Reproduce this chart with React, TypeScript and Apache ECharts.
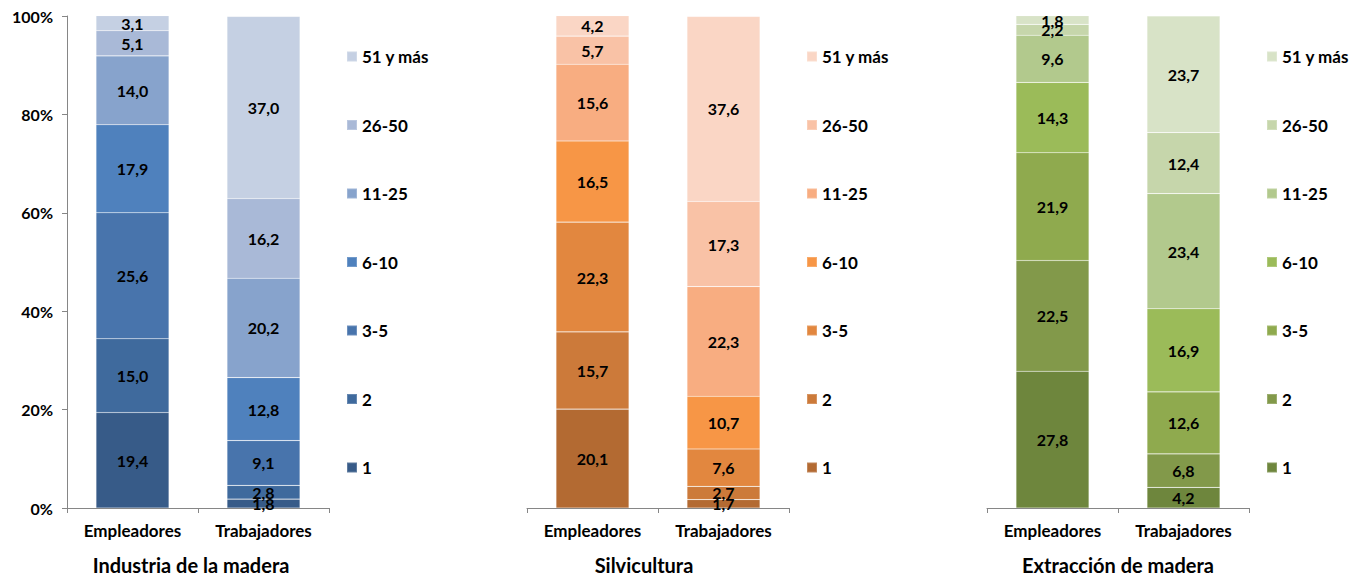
import React, { useEffect, useRef } from "react";
import * as echarts from "echarts";

const categories = ["Empleadores", "Trabajadores"];
const sizeLabels = ["1", "2", "3-5", "6-10", "11-25", "26-50", "51 y más"];
const panelTitles = ["Industria de la madera", "Silvicultura", "Extracción de madera"];

const industriaEmp = [19.4, 15.0, 25.6, 17.9, 14.0, 5.1, 3.1];
const industriaTrab = [1.8, 2.8, 9.1, 12.8, 20.2, 16.2, 37.0];
const silviculturaEmp = [20.1, 15.7, 22.3, 16.5, 15.6, 5.7, 4.2];
const silviculturaTrab = [1.7, 2.7, 7.6, 10.7, 22.3, 17.3, 37.6];
const extraccionEmp = [27.8, 22.5, 21.9, 14.3, 9.6, 2.2, 1.8];
const extraccionTrab = [4.2, 6.8, 12.6, 16.9, 23.4, 12.4, 23.7];

const blueColors = ["#375B88", "#3F6A9D", "#4874AC", "#4F81BD", "#87A3CC", "#A9B9D7", "#C5D0E3"];
const orangeColors = ["#B36A32", "#CC7A3A", "#E2873F", "#F79646", "#F8AD81", "#F9C2A6", "#FAD6C5"];
const greenColors = ["#6E863D", "#82994A", "#8FAA4E", "#9BBB59", "#B2C98D", "#C6D6AB", "#D8E3C7"];

const panels = [
  { emp: industriaEmp, trab: industriaTrab, colors: blueColors },
  { emp: silviculturaEmp, trab: silviculturaTrab, colors: orangeColors },
  { emp: extraccionEmp, trab: extraccionTrab, colors: greenColors },
];

const FONT = "Lato";
const gridLefts = [67, 527, 987];
const legendLefts = [346, 806, 1266];
const titleCenters = [191, 644, 1118];

export default function App() {
  const ref = useRef<HTMLDivElement>(null);
  useEffect(() => {
    if (!ref.current) return;
    const chart = echarts.init(ref.current, undefined, { renderer: "svg" });
    const axisColor = "#868686";
    const grid = gridLefts.map((l) => ({ left: l, top: 16, width: 262, height: 492 }));
    const xAxis = panels.map((_, p) => ({
      type: "category",
      gridIndex: p,
      data: categories,
      axisLine: { show: true, lineStyle: { color: axisColor, width: 1 } },
      axisTick: { show: true, length: 5, lineStyle: { color: axisColor } },
      axisLabel: { color: "#000", fontFamily: FONT, fontWeight: "bold", fontSize: 17, margin: 14 },
    }));
    const yAxis = panels.map((_, p) => ({
      type: "value",
      gridIndex: p,
      min: 0,
      max: 100,
      interval: 20,
      show: p === 0,
      splitLine: { show: false },
      axisLine: { show: true, lineStyle: { color: axisColor, width: 1 } },
      axisTick: { show: true, length: 5, lineStyle: { color: axisColor } },
      axisLabel: {
        color: "#000",
        fontFamily: FONT,
        fontWeight: "bold",
        fontSize: 16,
        margin: 14,
        formatter: "{value}%",
      },
    }));
    const series: any[] = [];
    panels.forEach((pn, p) => {
      sizeLabels.forEach((lab, i) => {
        series.push({
          type: "bar",
          name: `${p}|${lab}`,
          stack: "s" + p,
          xAxisIndex: p,
          yAxisIndex: p,
          barWidth: 73,
          data: [pn.emp[i], pn.trab[i]],
          itemStyle: { color: pn.colors[i], borderColor: "rgba(255,255,255,0.2)", borderWidth: 0.6 },
          label: {
            show: true,
            position: "inside",
            color: "#000",
            fontFamily: FONT,
            fontWeight: "bold",
            fontSize: 16,
            formatter: (d: any) => Number(d.value).toFixed(1).replace(".", ","),
          },
        });
      });
    });
    const legend = panels.map((_, p) => ({
      orient: "vertical",
      left: legendLefts[p],
      top: 48,
      padding: 0,
      itemWidth: 10,
      itemHeight: 10,
      itemGap: 51.5,
      icon: "rect",
      selectedMode: false,
      data: sizeLabels.map((lab) => `${p}|${lab}`).reverse(),
      formatter: (name: string) => name.split("|")[1],
      textStyle: { color: "#000", fontFamily: FONT, fontWeight: "bold", fontSize: 17, lineHeight: 14 },
    }));
    const graphic = panelTitles.map((t, p) => ({
      type: "text",
      x: titleCenters[p],
      y: 565,
      style: {
        text: t,
        fill: "#000",
        font: `bold 20px ${FONT}`,
        textAlign: "center",
        textVerticalAlign: "middle",
      },
    }));
    chart.setOption({
      animation: false,
      backgroundColor: "#fff",
      grid,
      xAxis,
      yAxis,
      legend,
      series,
      graphic,
    } as any);
    return () => chart.dispose();
  }, []);
  return (
    <div
      ref={ref}
      style={{ position: "absolute", left: 0, top: 0, width: 1363, height: 577 }}
    />
  );
}
